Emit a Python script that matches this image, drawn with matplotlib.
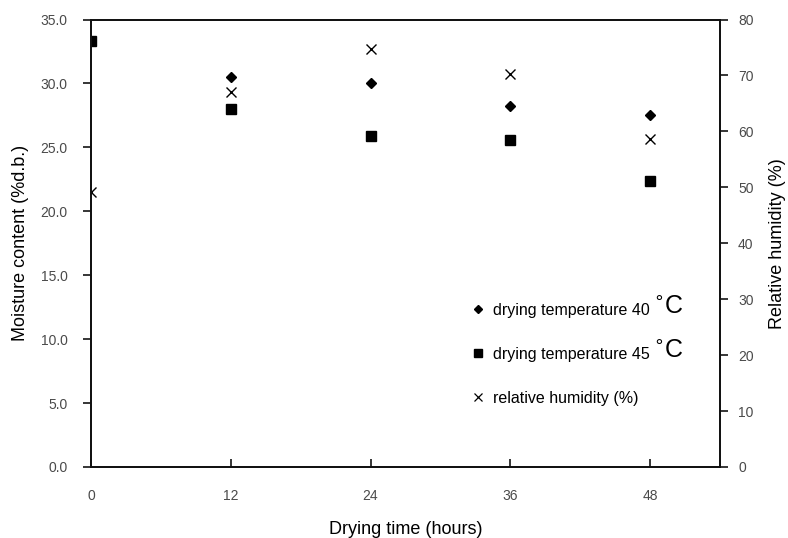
import matplotlib
matplotlib.use("Agg")
import matplotlib.pyplot as plt
from matplotlib.lines import Line2D

plt.rcParams['font.family'] = ['Liberation Sans', 'DejaVu Sans']

# data
hours = [0, 12, 24, 36, 48]
temp40 = [None, 30.5, 30.0, 28.2, 27.5]
temp45 = [33.3, 28.0, 25.9, 25.6, 22.4]
rel_hum = [49.2, 67.0, 74.7, 70.2, 58.6]

xticks = [0, 12, 24, 36, 48]
left_ticks = [0, 5, 10, 15, 20, 25, 30, 35]
right_ticks = [0, 10, 20, 30, 40, 50, 60, 70, 80]

tick_col = '#4a4a4a'

fig = plt.figure(figsize=(7.88, 5.38), dpi=100)
ax = fig.add_axes([91/788, 1 - 467/538, (720 - 91)/788, (467 - 19.5)/538])
ax2 = ax.twinx()

h40 = [h for h, v in zip(hours, temp40) if v is not None]
v40 = [v for v in temp40 if v is not None]
ax.plot(h40, v40, linestyle='none', marker='D', markersize=5.2, color='black')
ax.plot(hours, temp45, linestyle='none', marker='s', markersize=6.5, color='black')
ax2.plot(hours, rel_hum, linestyle='none', marker='x', markersize=7, markeredgewidth=1.0, color='black')

ax.set_xlim(0, 54)
ax.set_ylim(0, 35)
ax2.set_ylim(0, 80)

ax.set_xticks(xticks)
ax.set_xticklabels([str(t) for t in xticks])
ax.set_yticks(left_ticks)
ax.set_yticklabels(['%.1f' % t for t in left_ticks])
ax2.set_yticks(right_ticks)
ax2.set_yticklabels([str(t) for t in right_ticks])

ax.tick_params(axis='x', direction='in', length=6, width=1.1, pad=16, labelsize=10, labelcolor=tick_col)
ax.tick_params(axis='y', direction='out', length=6, width=1.1, pad=11, labelsize=10, labelcolor=tick_col)
ax2.tick_params(axis='y', direction='out', length=6, width=1.1, pad=7, labelsize=10, labelcolor=tick_col)

for a in (ax, ax2):
    for s in a.spines.values():
        s.set_linewidth(1.3)
        s.set_color('#111111')

ax.set_xlabel('Drying time (hours)', fontsize=13, labelpad=13)
ax.set_ylabel('Moisture content (%d.b.)', fontsize=13, labelpad=8)
ax2.set_ylabel('Relative humidity (%)', fontsize=13, labelpad=11)

handles = [
    Line2D([], [], linestyle='none', marker='D', markersize=4.5, color='black'),
    Line2D([], [], linestyle='none', marker='s', markersize=6, color='black'),
    Line2D([], [], linestyle='none', marker='x', markersize=5.5, markeredgewidth=0.9, color='black'),
]
labels = ['drying temperature 40', 'drying temperature 45', 'relative humidity (%)']
leg = ax.legend(handles, labels, loc='upper left', bbox_to_anchor=((470 - 91)/629, (467 - 303)/447.5),
                frameon=False, fontsize=11.5, handlelength=1.0, handletextpad=0.45,
                labelspacing=1.8, borderpad=0, borderaxespad=0)

# larger degree Celsius marks after the temperature labels
fig.canvas.draw()
renderer = fig.canvas.get_renderer()
for t in leg.get_texts()[:2]:
    bb = t.get_window_extent(renderer)
    fig.text((bb.x1 + 3) / fig.bbox.width, (bb.y0 - 1) / fig.bbox.height, '$^{\\circ}$C',
             fontsize=18, ha='left', va='bottom')

fig.savefig('out.png', dpi=100)
